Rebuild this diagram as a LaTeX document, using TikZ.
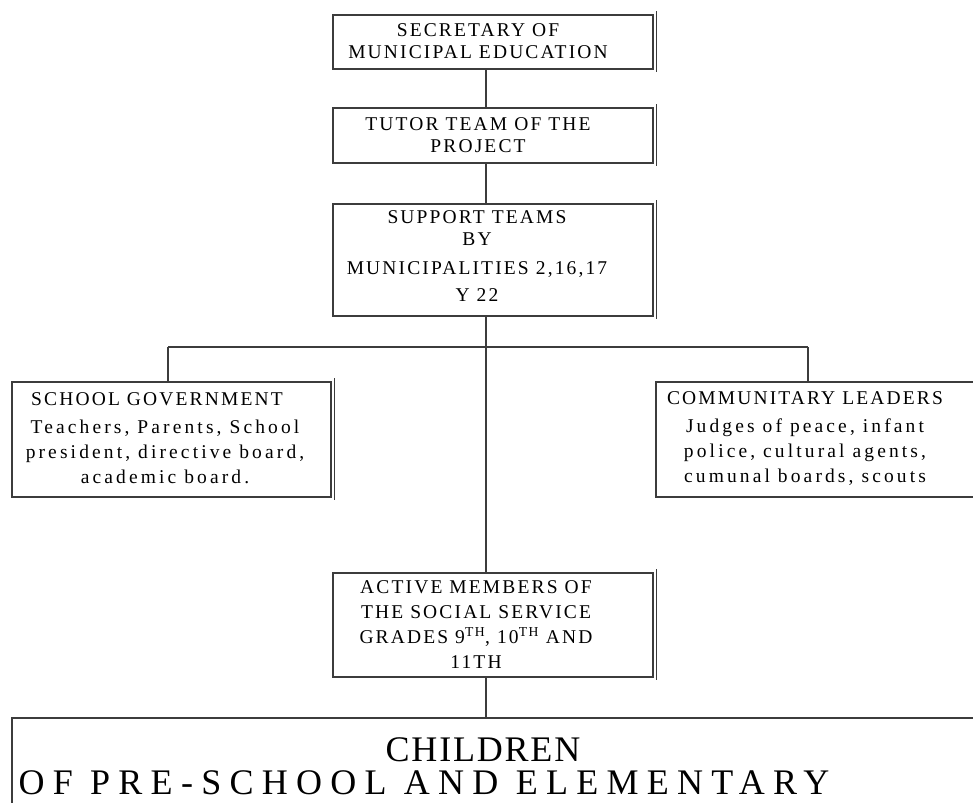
\documentclass[tikz,border=0pt]{standalone}
\usepackage{fontspec}
\setmainfont{Liberation Serif}[LetterSpace=11.0]
\newfontfamily\bodyfont{Liberation Serif}[LetterSpace=16.0]
\newfontfamily\bigfont{Liberation Serif}[LetterSpace=5.0]
\newfontfamily\widefont{Liberation Serif}[LetterSpace=23.0]
\usepackage{tikz}
\usetikzlibrary{positioning}
\definecolor{boxline}{RGB}{60,60,60}

\tikzset{
  box/.style={draw=boxline, line width=1.4pt, rectangle, inner sep=0pt},
  edge/.style={draw=boxline, line width=1.2pt},
  boxtext/.style={align=center, inner sep=0pt, font=\fontsize{19.5}{22}\selectfont},
  bodytext/.style={align=center, inner sep=0pt, font=\bodyfont\fontsize{19.5}{25}\selectfont},
  bigtext/.style={inner sep=0pt, anchor=base, text height=25pt, text depth=0pt}
}

\begin{document}
\begin{tikzpicture}[x=1pt,y=-1pt]
\useasboundingbox (0,0) rectangle (973,802);
\clip (0,0) rectangle (973,802);
% boxes
\node[box, minimum width=320pt, minimum height=54pt] (sec) at (493,42) {};
\node[box, minimum width=320pt, minimum height=55pt] (tutor) at (493,135.5) {};
\node[box, minimum width=320pt, minimum height=112pt] (support) at (493,260) {};
\node[box, minimum width=319pt, minimum height=115pt] (school) at (171.5,439.5) {};
\node[box, minimum width=344pt, minimum height=115pt] (comm) at (828,439.5) {};
\node[box, minimum width=320pt, minimum height=104pt] (active) at (493,625) {};
\node[box, minimum width=1000pt, minimum height=130pt] (kids) at (512,783) {};

% second line on the right side
\foreach \b in {sec,tutor,support,school,active}
  \draw[edge] ([shift={(3,-3)}]\b.north east) -- ([shift={(3,2)}]\b.south east);

% texts
\node[boxtext] (sectxt) at (478,41) {SECRETARY OF\\MUNICIPAL EDUCATION};
\node[boxtext] (tutortxt) at (478,135) {TUTOR TEAM OF THE\\PROJECT};
\node[boxtext] (supporttxt) at (477,256) {SUPPORT TEAMS\\BY\\[7pt]MUNICIPALITIES 2,16,17\\[5pt]Y 22};
\node[boxtext] (schoolhead) at (157,399) {SCHOOL GOVERNMENT};
\node[bodytext] (schoolbody) at (165,452)
  {Teachers, Parents, School\\president, directive board,\\academic board.};
\node[boxtext] (commhead) at (805,398) {COMMUNITARY LEADERS};
\node[bodytext] (commbody) at (805,452)
  {Judges of peace, infant\\police, cultural agents,\\cumunal boards, scouts};
\node[boxtext, font=\fontsize{19.5}{25}\selectfont] (activetxt) at (476,625)
  {ACTIVE MEMBERS OF\\THE SOCIAL SERVICE\\GRADES 9\textsuperscript{TH}, 10\textsuperscript{TH} AND\\11TH};
\node[bigtext, font=\bigfont\fontsize{36}{40}\selectfont] (kidsone) at (483,761) {CHILDREN};
\node[bigtext, font=\widefont\fontsize{36}{40}\selectfont] (kidstwo) at (424,794) {OF PRE-SCHOOL AND ELEMENTARY};

% connectors
\coordinate (spine) at (486,0);
\coordinate (fork) at (486,347);
\coordinate (lbranch) at (168,347);
\coordinate (rbranch) at (808,347);
\draw[edge] (sec.south -| spine) -- (tutor.north -| spine);
\draw[edge] (tutor.south -| spine) -- (support.north -| spine);
\draw[edge] (support.south -| spine) -- (fork);
\draw[edge] (lbranch) -- (rbranch);
\draw[edge] (lbranch) -- (lbranch |- school.north);
\draw[edge] (rbranch) -- (rbranch |- comm.north);
\draw[edge] (fork) -- (active.north -| spine);
\draw[edge] (active.south -| spine) -- (kids.north -| spine);
\end{tikzpicture}
\end{document}
